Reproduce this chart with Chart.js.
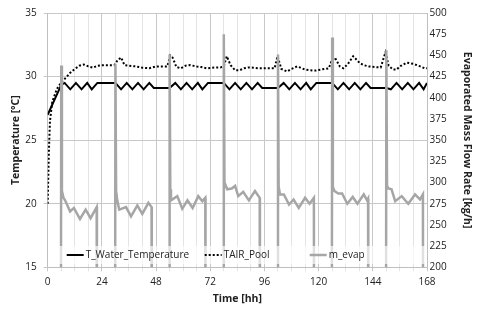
<!DOCTYPE html>
<html>
<head>
<meta charset="utf-8">
<script src="https://cdn.jsdelivr.net/npm/chart.js@4.4.0/dist/chart.umd.min.js"></script>
<style>
  body { margin: 0; background: #fff; }
  canvas { display: block; }
</style>
</head>
<body>
<canvas id="chart" width="480" height="314"></canvas>
<script>
// x axis ticks
const labeledHours = [0, 24, 48, 72, 96, 120, 144, 168];

// T_Water_Temperature [°C]
const waterTime = [0, 6, 7.5, 10, 12.5, 15, 17.5, 19.5, 22, 30,
    32.5, 35, 37.5, 40, 42.5, 45, 47, 54,
    56.5, 59, 61.5, 64, 66.5, 68.5, 71, 78,
    80.5, 83, 85.5, 88, 90.5, 93, 95, 102,
    104.5, 107, 109.5, 112, 114.5, 116.5, 119, 126,
    128.5, 131, 133.5, 136, 138.5, 141, 143, 150,
    152, 154.5, 157, 159.5, 162, 164.5, 166.5, 168];
const waterTemp = [27.0, 29.35, 29.5, 29.0, 29.5, 29.0, 29.5, 29.0, 29.5, 29.5,
    29.0, 29.5, 29.0, 29.5, 29.0, 29.5, 29.1, 29.1,
    29.5, 29.0, 29.5, 29.0, 29.5, 29.0, 29.5, 29.5,
    29.0, 29.5, 29.0, 29.5, 29.0, 29.5, 29.1, 29.1,
    29.5, 29.0, 29.5, 29.0, 29.5, 29.0, 29.5, 29.5,
    29.0, 29.5, 29.0, 29.5, 29.0, 29.5, 29.1, 29.1,
    29.0, 29.5, 29.0, 29.5, 29.0, 29.5, 29.0, 29.5];

// TAIR_Pool [°C]
const airTime = [0, 0.5, 1, 2, 4, 6, 8, 10, 12, 14, 16, 18, 20, 22, 24, 27, 29.5,
    31, 32.5, 34, 36, 39, 42, 45, 48, 51, 53,
    54.3, 55.3, 57, 59, 61, 63, 66, 68, 70.5, 73, 76.5, 78,
    79.3, 81, 83, 85, 87, 89, 91, 93.5, 96, 98, 100.5,
    101.8, 103.5, 106, 108, 110.5, 112, 114, 116, 118.5, 121, 124.5,
    125.8, 127.2, 129.4, 131, 133, 135.3, 138.3, 140, 142, 145, 147.5,
    149.6, 151, 153, 154.5, 156, 159, 162, 165, 167, 168];
const airTemp = [20.0, 24.0, 26.5, 28.0, 29.0, 29.55, 29.9, 30.3, 30.6, 30.85, 30.95, 30.8, 30.7, 30.85, 30.9, 30.9, 30.9,
    31.3, 31.5, 30.9, 30.85, 30.8, 30.7, 30.65, 30.8, 30.8, 30.8,
    31.65, 31.5, 30.75, 30.65, 30.85, 30.9, 30.8, 30.75, 30.65, 30.7, 30.72, 30.8,
    31.6, 30.9, 30.5, 30.5, 30.65, 30.72, 30.7, 30.65, 30.65, 30.65, 30.65,
    31.6, 30.6, 30.4, 30.6, 30.8, 30.7, 30.55, 30.5, 30.47, 30.55, 30.65,
    31.25, 31.5, 30.8, 30.65, 31.0, 31.6, 31.05, 30.9, 30.8, 30.75, 30.72,
    31.9, 30.85, 30.55, 30.55, 30.8, 31.1, 31.0, 30.8, 30.65, 30.65];

// m_evap [kg/h] (0 = pool covered, below axis)
const evapTime = [0, 5.8, 6, 6.3, 7, 7.7, 9.9, 11.6, 14.3, 16.8, 19, 21.7, 21.8, 29.8,
    30, 30.3, 30.8, 31.7, 34.7, 36.9, 39.7, 41.9, 44.6, 46, 46.1, 53.8,
    54, 54.3, 54.6, 57.4, 59.6, 61.9, 64.2, 66.7, 68.5, 69.8, 69.9, 77.8,
    78, 78.3, 79.5, 81.5, 83, 84.4, 86.6, 89.1, 91.8, 93.9, 94, 101.8,
    102, 102.3, 102.9, 104.6, 106.9, 108.9, 111.2, 114, 116, 117.9, 118, 125.8,
    126, 126.3, 127, 128.7, 130.4, 132.7, 135.1, 137.2, 140, 141.5, 141.9, 142, 149.8,
    150, 150.3, 150.9, 152.3, 153.9, 156.8, 159.7, 162.7, 164.9, 166.2, 166.3, 168];
const evapRate = [0, 0, 438, 290, 282, 279, 266, 270, 257, 268, 258, 271, 0, 0,
    440, 290, 279, 268, 271, 260, 273, 263, 276, 271, 0, 0,
    451, 292, 279, 284, 269, 279, 270, 284, 278, 282, 0, 0,
    475, 300, 292, 293, 296, 284, 289, 279, 290, 282, 0, 0,
    451, 295, 286, 286, 274, 280, 270, 282, 275, 282, 0, 0,
    471, 295, 290, 287, 287, 275, 283, 275, 286, 279, 281, 0, 0,
    456, 296, 293, 292, 278, 284, 275, 286, 280, 286, 0, 0];

function toPoints(xs, ys) {
    return xs.map((x, i) => ({ x: x, y: ys[i] }));
}

const textColor = '#222';
const tickFont = { family: '"Open Sans", sans-serif', size: 10 };
const titleFont = { family: '"Open Sans", sans-serif', size: 10.5, weight: 'bold' };

// legend sits inside the plot, on a translucent white band
const insideLegend = {
    id: 'insideLegend',
    afterDraw(chart) {
        const { ctx, chartArea } = chart;
        const y = chartArea.bottom - 12.3;
        const itemX = [19, 157, 262];
        ctx.save();
        ctx.fillStyle = 'rgba(255,255,255,0.65)';
        ctx.fillRect(chartArea.left + 4, y - 9, chartArea.width - 6, 18);
        chart.data.datasets.forEach((ds, i) => {
            const x = chartArea.left + itemX[i];
            ctx.beginPath();
            ctx.strokeStyle = ds.borderColor;
            ctx.lineWidth = ds.borderWidth;
            ctx.setLineDash(ds.borderDash || []);
            ctx.moveTo(x, y);
            ctx.lineTo(x + 17, y);
            ctx.stroke();
            ctx.setLineDash([]);
            ctx.fillStyle = textColor;
            ctx.font = '10px "Open Sans", sans-serif';
            ctx.textBaseline = 'middle';
            ctx.fillText(ds.label, x + 19, y);
        });
        ctx.restore();
    }
};

const ctx = document.getElementById('chart').getContext('2d');
const chart = new Chart(ctx, {
    type: 'line',
    data: {
        datasets: [
            {
                label: 'T_Water_Temperature',
                data: toPoints(waterTime, waterTemp),
                borderColor: '#000000',
                borderWidth: 2,
                yAxisID: 'y',
                order: 1
            },
            {
                label: 'TAIR_Pool',
                data: toPoints(airTime, airTemp),
                borderColor: '#000000',
                borderWidth: 2,
                borderDash: [2, 2],
                yAxisID: 'y',
                order: 2
            },
            {
                label: 'm_evap',
                data: toPoints(evapTime, evapRate),
                borderColor: '#a6a6a6',
                borderWidth: 2.5,
                yAxisID: 'y2',
                order: 0
            }
        ]
    },
    options: {
        responsive: false,
        animation: false,
        devicePixelRatio: 1,
        layout: { padding: { top: 10, left: 0, right: 0, bottom: 0 } },
        elements: {
            point: { radius: 0 },
            line: { tension: 0, borderJoinStyle: 'miter' }
        },
        scales: {
            x: {
                type: 'linear',
                min: 0,
                max: 168,
                ticks: {
                    stepSize: 6,
                    autoSkip: false,
                    maxRotation: 0,
                    padding: 5,
                    color: textColor,
                    font: tickFont,
                    callback: (v) => labeledHours.includes(v) ? String(v) : ''
                },
                grid: {
                    color: (c) => c.tick && labeledHours.includes(c.tick.value) ? '#c8c8c8' : '#e4e4e4',
                    tickLength: 4
                },
                border: { color: '#bfbfbf' },
                title: {
                    display: true,
                    text: 'Time [hh]',
                    color: textColor,
                    font: titleFont,
                    padding: { top: 0, bottom: 8.7 }
                },
                afterFit: (s) => { s.height = 46.7; }
            },
            y: {
                position: 'left',
                min: 15,
                max: 35,
                ticks: { stepSize: 5, padding: 7, color: textColor, font: tickFont },
                grid: { color: '#c8c8c8', tickLength: 4 },
                border: { color: '#bfbfbf' },
                title: {
                    display: true,
                    text: 'Temperature [°C]',
                    color: textColor,
                    font: titleFont,
                    padding: { top: 9.7, bottom: 0 }
                },
                afterFit: (s) => { s.width = 47.7; }
            },
            y2: {
                position: 'right',
                min: 200,
                max: 500,
                ticks: { stepSize: 25, padding: 2.5, color: textColor, font: tickFont },
                grid: { drawOnChartArea: false, drawTicks: false },
                border: { color: '#bfbfbf' },
                title: {
                    display: true,
                    text: 'Evaporated Mass Flow Rate [kg/h]',
                    color: textColor,
                    font: titleFont,
                    padding: { top: 7.2, bottom: 0 }
                },
                afterFit: (s) => { s.width = 53; }
            }
        },
        plugins: {
            legend: { display: false },
            tooltip: { enabled: false }
        }
    },
    plugins: [insideLegend]
});
</script>
</body>
</html>
